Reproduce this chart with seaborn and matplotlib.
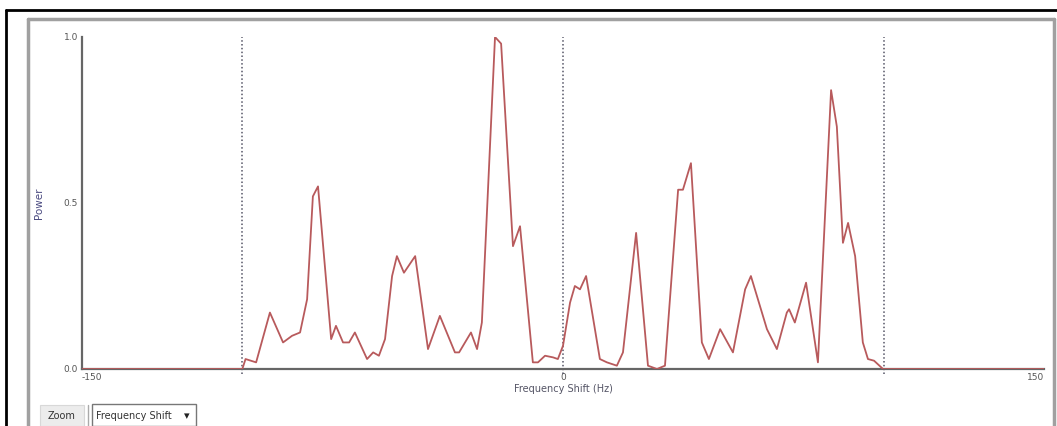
import matplotlib
matplotlib.use("Agg")
import matplotlib.pyplot as plt
import seaborn as sns
import pandas as pd
from matplotlib.patches import Rectangle
from matplotlib.lines import Line2D

# ---- data ----
freq_hz = [-150, -100, -99, -95.7, -91.4, -87.3, -84.5, -82.0, -79.8, -78.0, -76.4,
           -72.3, -70.8, -68.6, -66.7, -64.9, -61.1, -59.2, -57.4, -55.5, -53.3,
           -51.8, -49.6, -46.1, -42.1, -38.4, -33.7, -32.4, -28.7, -26.8, -25.3,
           -21.2, -19.3, -15.6, -13.4, -9.4, -7.8, -5.6, -3.1, -1.6, 0.0,
           2.2, 3.7, 5.3, 7.2, 11.5, 13.7, 16.8, 18.7, 22.8, 26.5,
           29.3, 31.8, 35.9, 37.4, 39.9, 43.3, 45.5, 49.0, 53.0, 56.8,
           58.6, 63.6, 66.7, 69.8, 70.5, 72.3, 75.8, 79.5, 83.6, 85.4,
           87.3, 88.9, 91.1, 93.5, 95.1, 97.0, 99.8, 150]
power = [0.0, 0.0, 0.03, 0.02, 0.17, 0.08, 0.10, 0.11, 0.21, 0.52, 0.55,
         0.09, 0.13, 0.08, 0.08, 0.11, 0.03, 0.05, 0.04, 0.09, 0.28,
         0.34, 0.29, 0.34, 0.06, 0.16, 0.05, 0.05, 0.11, 0.06, 0.14,
         1.0, 0.98, 0.37, 0.43, 0.02, 0.02, 0.04, 0.035, 0.03, 0.07,
         0.20, 0.25, 0.24, 0.28, 0.03, 0.02, 0.01, 0.05, 0.41, 0.01,
         0.0, 0.01, 0.54, 0.54, 0.62, 0.08, 0.03, 0.12, 0.05, 0.24,
         0.28, 0.12, 0.06, 0.17, 0.18, 0.14, 0.26, 0.02, 0.84, 0.73,
         0.38, 0.44, 0.34, 0.08, 0.03, 0.025, 0.0, 0.0]
marker_lines = [-100, 0, 100]
x_ticks = [-150, 0, 150]
x_tick_labels = ["-150", "0", "150"]
y_ticks = [0.0, 0.5, 1.0]
y_tick_labels = ["0.0", "0.5", "1.0"]

df = pd.DataFrame({"Frequency Shift (Hz)": freq_hz, "Power": power})

sns.set_theme(style="white")
plt.rcParams['font.family'] = ['DejaVu Sans']

fig = plt.figure(figsize=(10.57, 4.26), dpi=100)
W, H = 1057, 426

def fx(px):
    return px / W

def fy(py):
    return 1 - py / H

# outer frames
fig.add_artist(Line2D([fx(6), fx(6)], [fy(426), fy(10)], color="black", lw=2))
fig.add_artist(Line2D([fx(6), fx(1057)], [fy(10), fy(10)], color="black", lw=2))
fig.add_artist(Line2D([fx(28), fx(28)], [fy(426), fy(19)], color="#a0a0a0", lw=2.5))
fig.add_artist(Line2D([fx(28), fx(1054)], [fy(19), fy(19)], color="#a0a0a0", lw=2.5))
fig.add_artist(Line2D([fx(1054), fx(1054)], [fy(19), fy(426)], color="#a0a0a0", lw=2.5))

ax = fig.add_axes([fx(82), fy(369), fx(1044) - fx(82), fy(37) - fy(369)])

sns.lineplot(data=df, x="Frequency Shift (Hz)", y="Power", ax=ax,
             color="#b85a5c", lw=1.3, zorder=3)

for m in marker_lines:
    ax.axvline(m, ymin=-0.015, ymax=1.0, color="#555566", ls=(0, (1, 1.5)), lw=1.1,
               clip_on=False, zorder=2)

ax.set_xlim(-150, 150)
ax.set_ylim(0, 1.0)
ax.set_xticks(x_ticks)
ax.set_xticklabels(x_tick_labels)
ax.set_yticks(y_ticks)
ax.set_yticklabels(y_tick_labels)

for side in ["top", "right"]:
    ax.spines[side].set_visible(False)
for side in ["left", "bottom"]:
    ax.spines[side].set_color("#666666")
    ax.spines[side].set_linewidth(1.6)

ax.tick_params(axis="both", labelsize=6.5, colors="#666666", length=0, pad=3,
               labelcolor="#555555")
labels = ax.get_xticklabels()
labels[0].set_horizontalalignment("left")
labels[-1].set_horizontalalignment("right")

ax.set_xlabel("Frequency Shift (Hz)", fontsize=7, color="#555566", labelpad=1)
ax.set_ylabel("Power", fontsize=7.5, color="#4a4a80", labelpad=14)

# UI controls at the bottom
fig.add_artist(Rectangle((fx(40), fy(426)), fx(84) - fx(40), fy(405) - fy(426),
                         facecolor="#ececec", edgecolor="#d8d8d8", lw=0.8))
fig.text(fx(62), fy(416), "Zoom", fontsize=7, color="#333333", ha="center", va="center")
fig.add_artist(Line2D([fx(88), fx(88)], [fy(405), fy(426)], color="#aaaaaa", lw=1))
fig.add_artist(Rectangle((fx(92), fy(426)), fx(196) - fx(92), fy(404) - fy(426),
                         facecolor="white", edgecolor="#777777", lw=1))
fig.text(fx(96), fy(416), "Frequency Shift", fontsize=7, color="#333333",
         ha="left", va="center")
fig.text(fx(187), fy(416), "▾", fontsize=8, color="#222222", ha="center", va="center")

fig.savefig("out.png", dpi=100)
